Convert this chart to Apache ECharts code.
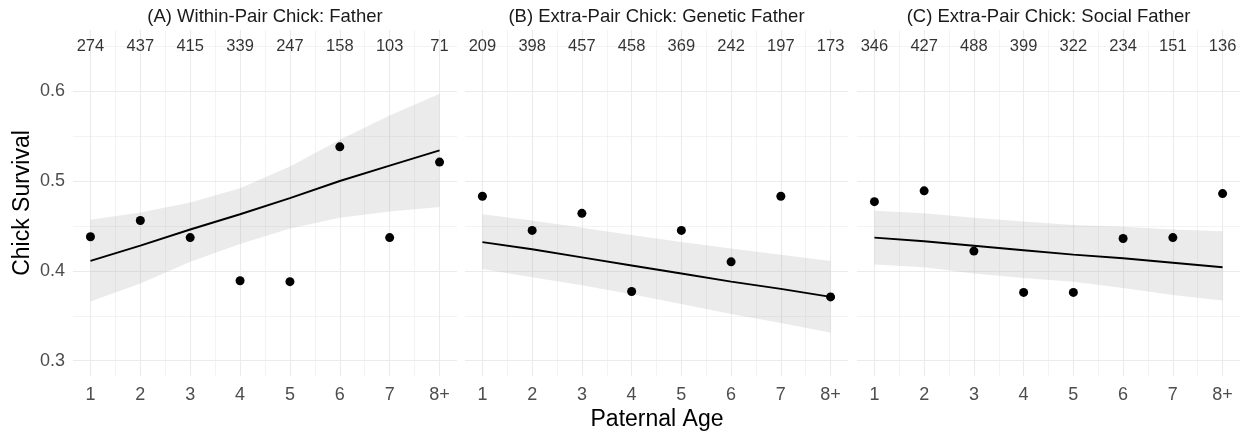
<!DOCTYPE html>
<html>
<head>
<meta charset="utf-8">
<script src="https://cdn.jsdelivr.net/npm/echarts@6/dist/echarts.min.js"></script>
<style>
html,body{margin:0;padding:0;background:#fff;}
#chart{width:1248px;height:436px;}
</style>
</head>
<body>
<div id="chart"></div>
<script>
// ---- data ----
const ages = [1, 2, 3, 4, 5, 6, 7, 8];
const ageLabels = ['1', '2', '3', '4', '5', '6', '7', '8+'];
const panelTitles = ['(A) Within-Pair Chick: Father', '(B) Extra-Pair Chick: Genetic Father', '(C) Extra-Pair Chick: Social Father'];

const countsA = [274, 437, 415, 339, 247, 158, 103, 71];
const countsB = [209, 398, 457, 458, 369, 242, 197, 173];
const countsC = [346, 427, 488, 399, 322, 234, 151, 136];

const survA = [0.438, 0.456, 0.437, 0.389, 0.388, 0.538, 0.437, 0.521];
const survB = [0.483, 0.445, 0.464, 0.377, 0.445, 0.410, 0.483, 0.371];
const survC = [0.477, 0.489, 0.422, 0.376, 0.376, 0.436, 0.437, 0.486];

const fitA = [0.411, 0.428, 0.446, 0.463, 0.481, 0.500, 0.517, 0.534];
const fitB = [0.432, 0.424, 0.415, 0.406, 0.397, 0.388, 0.380, 0.371];
const fitC = [0.437, 0.433, 0.428, 0.423, 0.418, 0.414, 0.409, 0.404];

const upperA = [0.457, 0.465, 0.476, 0.492, 0.516, 0.546, 0.573, 0.597];
const lowerA = [0.366, 0.386, 0.410, 0.430, 0.447, 0.459, 0.466, 0.471];
const upperB = [0.463, 0.456, 0.448, 0.440, 0.432, 0.425, 0.418, 0.411];
const lowerB = [0.402, 0.393, 0.384, 0.374, 0.363, 0.352, 0.342, 0.331];
const upperC = [0.467, 0.464, 0.459, 0.455, 0.451, 0.449, 0.446, 0.444];
const lowerC = [0.407, 0.404, 0.397, 0.392, 0.388, 0.381, 0.373, 0.367];

const yMajorTicks = [0.3, 0.4, 0.5, 0.6];
const yMinorTicks = [0.35, 0.45, 0.55, 0.65];
const xMinorTicks = [1.5, 2.5, 3.5, 4.5, 5.5, 6.5, 7.5];
const countLabelY = 0.65;

// ---- layout ----
const FONT = 'Liberation Sans, Arial, sans-serif';
const grids = [
  {left: 73, top: 30, width: 384, height: 346},
  {left: 465, top: 30, width: 383, height: 346},
  {left: 857, top: 30, width: 383, height: 346}
];
const panels = [
  {counts: countsA, surv: survA, fit: fitA, upper: upperA, lower: lowerA},
  {counts: countsB, surv: survB, fit: fitB, upper: upperB, lower: lowerB},
  {counts: countsC, surv: survC, fit: fitC, upper: upperC, lower: lowerC}
];
const GRID_COLOR = '#ebebeb';

const xAxes = [], yAxes = [], series = [], graphics = [];
grids.forEach((g, k) => {
  xAxes.push({
    type: 'value', gridIndex: k, min: 0.65, max: 8.35,
    axisLine: {show: false},
    axisTick: {show: false, customValues: ages},
    axisLabel: {
      customValues: ages, margin: 10, color: '#4d4d4d', fontSize: 18, fontFamily: FONT,
      formatter: v => ageLabels[ages.indexOf(v)]
    },
    splitLine: {show: true, lineStyle: {color: GRID_COLOR, width: 1.1}}
  });
  xAxes.push({
    type: 'value', gridIndex: k, min: 0.65, max: 8.35, position: 'bottom',
    axisLine: {show: false},
    axisTick: {show: false, customValues: xMinorTicks},
    axisLabel: {show: false, customValues: xMinorTicks},
    splitLine: {show: true, lineStyle: {color: GRID_COLOR, width: 0.6}}
  });
  yAxes.push({
    type: 'value', gridIndex: k, min: 0.283, max: 0.668,
    axisLine: {show: false},
    axisTick: {show: false, customValues: yMajorTicks},
    axisLabel: {
      show: k === 0, customValues: yMajorTicks, margin: 8, color: '#4d4d4d', fontSize: 18, fontFamily: FONT,
      formatter: v => v.toFixed(1)
    },
    splitLine: {show: true, lineStyle: {color: GRID_COLOR, width: 1.1}}
  });
  yAxes.push({
    type: 'value', gridIndex: k, min: 0.283, max: 0.668, position: 'left',
    axisLine: {show: false},
    axisTick: {show: false, customValues: yMinorTicks},
    axisLabel: {show: false, customValues: yMinorTicks},
    splitLine: {show: true, lineStyle: {color: GRID_COLOR, width: 0.6}}
  });

  const p = panels[k];
  // confidence band
  series.push({
    type: 'custom', xAxisIndex: 2 * k, yAxisIndex: 2 * k, z: 1, silent: true,
    data: ages.map((a, i) => [a, p.lower[i], p.upper[i]]),
    renderItem: (params, api) => {
      if (params.dataIndex !== 0) return null;
      const pts = [];
      for (let i = 0; i < ages.length; i++) pts.push(api.coord([ages[i], p.upper[i]]));
      for (let i = ages.length - 1; i >= 0; i--) pts.push(api.coord([ages[i], p.lower[i]]));
      return {type: 'polygon', shape: {points: pts}, style: {fill: 'rgba(153,153,153,0.2)', stroke: null}};
    }
  });
  // fitted line
  series.push({
    type: 'line', xAxisIndex: 2 * k, yAxisIndex: 2 * k, z: 2, silent: true,
    data: ages.map((a, i) => [a, p.fit[i]]),
    symbol: 'none', lineStyle: {color: '#000', width: 1.9}
  });
  // points
  series.push({
    type: 'scatter', xAxisIndex: 2 * k, yAxisIndex: 2 * k, z: 3, silent: true,
    data: ages.map((a, i) => [a, p.surv[i]]),
    symbolSize: 9, itemStyle: {color: '#000', opacity: 1}
  });
  // count labels
  series.push({
    type: 'scatter', xAxisIndex: 2 * k, yAxisIndex: 2 * k, z: 4, silent: true,
    data: ages.map((a, i) => [a, countLabelY, p.counts[i]]),
    symbolSize: 1, itemStyle: {color: 'rgba(0,0,0,0)'},
    label: {
      show: true, position: 'inside', formatter: d => String(d.value[2]),
      color: '#000', fontSize: 16.5, fontFamily: FONT
    }
  });
  // panel title
  graphics.push({
    type: 'text', x: g.left + g.width / 2, y: 17,
    style: {text: panelTitles[k], fill: '#1a1a1a', font: '18.5px ' + FONT, textAlign: 'center', textVerticalAlign: 'middle'}
  });
});

graphics.push({
  type: 'text', x: 657, y: 420,
  style: {text: 'Paternal Age', fill: '#000', font: '23px ' + FONT, textAlign: 'center', textVerticalAlign: 'middle'}
});
graphics.push({
  type: 'text', x: 23, y: 203, rotation: Math.PI / 2,
  style: {text: 'Chick Survival', fill: '#000', font: '23px ' + FONT, textAlign: 'center', textVerticalAlign: 'middle'}
});

const chart = echarts.init(document.getElementById('chart'), null, {renderer: 'canvas'});
chart.setOption({
  animation: false,
  backgroundColor: '#fff',
  grid: grids,
  xAxis: xAxes,
  yAxis: yAxes,
  series: series,
  graphic: graphics
});
</script>
</body>
</html>
